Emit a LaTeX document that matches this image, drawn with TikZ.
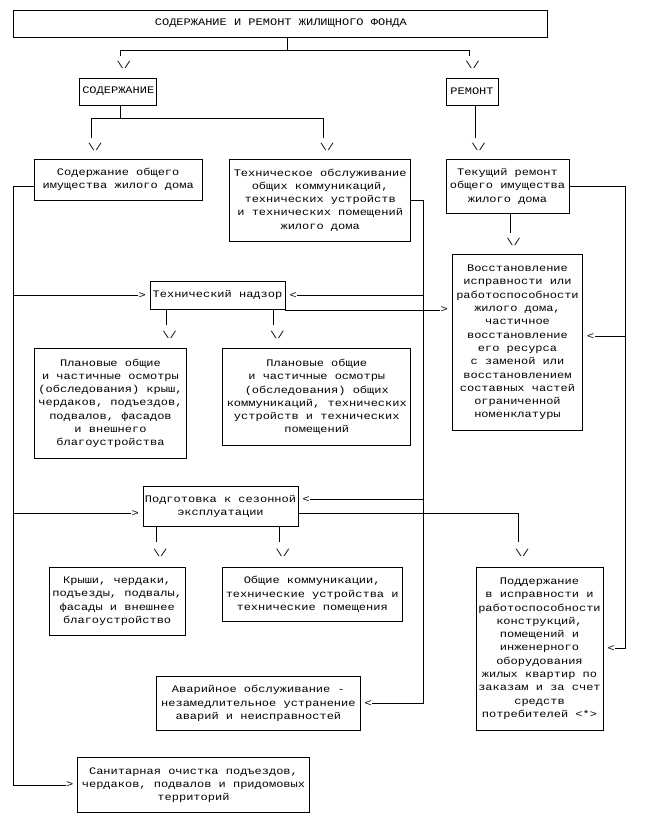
\documentclass[tikz,border=0pt]{standalone}
\usepackage{fontspec}
\newfontfamily\boxfont[FakeStretch=1.2]{Liberation Mono}
\newcommand{\vtext}{\textbackslash/}
\tikzset{
  blok/.style={draw, line width=0.9pt, inner sep=1pt, align=center,
    font=\boxfont\fontsize{10}{13.3}\selectfont},
  wh/.style 2 args={minimum width=#1pt, minimum height=#2pt},
  tip/.style={inner sep=0pt, font=\boxfont\fontsize{10}{13.3}\selectfont},
  link/.style={line width=0.9pt}
}
\begin{document}
\begin{tikzpicture}[x=1pt, y=-1pt]
  \useasboundingbox (0,0) rectangle (648,827);
  % boxes
  \node [blok, wh={534}{27}] (fond) at (280.9,23.5) {СОДЕРЖАНИЕ И РЕМОНТ ЖИЛИЩНОГО ФОНДА};
  \node [blok, wh={77}{27}] (sod) at (118.3,91.6) {СОДЕРЖАНИЕ};
  \node [blok, wh={52}{27}] (rem) at (472,91.6) {РЕМОНТ};
  \node [blok, wh={167.6}{41}] (obsh) at (118.2,179.5)
    {Содержание общего\\имущества жилого дома};
  \node [blok, wh={181.3}{82}] (tech) at (320.2,200)
    {Техническое обслуживание\\общих коммуникаций,\\технических устройств\\и технических помещений\\жилого дома};
  \node [blok, wh={123}{54}] (tek) at (507.5,186.2)
    {Текущий ремонт\\общего имущества\\жилого дома};
  \node [blok, wh={130}{176.4}] (vos) at (517.5,342.5)
    {Восстановление\\исправности или\\работоспособности\\жилого дома,\\частичное\\восстановление\\его ресурса\\с заменой или\\восстановлением\\составных частей\\ограниченной\\номенклатуры};
  \node [blok, wh={135}{28.5}] (nadz) at (217.5,295.3) {Технический надзор};
  \node [blok, wh={152.3}{110}] (plan1) at (110.5,403.3)
    {Плановые общие\\и частичные осмотры\\(обследования) крыш,\\чердаков, подъездов,\\подвалов, фасадов\\и внешнего\\благоустройства};
  \node [blok, wh={188}{97.4}] (plan2) at (316.8,397)
    {Плановые общие\\и частичные осмотры\\(обследования) общих\\коммуникаций, технических\\устройств и технических\\помещений};
  \node [blok, wh={155}{40.7}] (podg) at (220.5,506.3)
    {Подготовка к сезонной\\эксплуатации};
  \node [blok, wh={136.5}{67.7}] (krysh) at (117.2,601.2)
    {Крыши, чердаки,\\подъезды, подвалы,\\фасады и внешнее\\благоустройство};
  \node [blok, wh={180.5}{54.4}] (komm) at (312.2,594.5)
    {Общие коммуникации,\\технические устройства и\\технические помещения};
  \node [blok, wh={127}{162.7}] (podd) at (539.5,648.7)
    {Поддержание\\в исправности и\\работоспособности\\конструкций,\\помещений и\\инженерного\\оборудования\\жилых квартир по\\заказам и за счет\\средств\\потребителей <*>};
  \node [blok, wh={203.2}{54.7}] (avar) at (258.4,703.4)
    {Аварийное обслуживание -\\незамедлительное устранение\\аварий и неисправностей};
  \node [blok, wh={232}{55.4}] (san) at (193.5,785)
    {Санитарная очистка подъездов,\\чердаков, подвалов и придомовых\\территорий};

  % bends and tick ends
  \coordinate (j0) at (287.5,50.7);
  \coordinate (k1) at (120.3,56);
  \coordinate (k2) at (469,56);
  \coordinate (j1) at (120.3,118.3);
  \coordinate (k3) at (91.7,138.3);
  \coordinate (k4) at (323.6,138.3);
  \coordinate (k5) at (475,138.3);
  \coordinate (k6) at (510,233.3);
  \coordinate (k7) at (166,325);
  \coordinate (k8) at (273.9,325);
  \coordinate (k9) at (156.7,541.7);
  \coordinate (k10) at (279.3,541.7);
  \coordinate (k11) at (518.7,541.7);
  \coordinate (L0) at (13.5,186.7);
  \coordinate (R0) at (423.5,200);
  \coordinate (R1) at (625.5,186.2);

  % arrow heads written as text
  \node [tip, anchor=north] (t1) at ([xshift=3.5pt,yshift=-4.6pt]k1) {\vtext};
  \node [tip, anchor=north] (t2) at ([xshift=3.5pt,yshift=-4.6pt]k2) {\vtext};
  \node [tip, anchor=north] (t3) at ([xshift=3.5pt,yshift=-4.4pt]k3) {\vtext};
  \node [tip, anchor=north] (t4) at ([xshift=3.5pt,yshift=-4.4pt]k4) {\vtext};
  \node [tip, anchor=north] (t5) at ([xshift=3.5pt,yshift=-4.4pt]k5) {\vtext};
  \node [tip, anchor=north] (t6) at ([xshift=3.5pt,yshift=-4.4pt]k6) {\vtext};
  \node [tip, anchor=north] (t7) at ([xshift=3.5pt,yshift=-6.5pt]k7) {\vtext};
  \node [tip, anchor=north] (t8) at ([xshift=3.5pt,yshift=-6.5pt]k8) {\vtext};
  \node [tip, anchor=north] (t9) at ([xshift=3.5pt,yshift=-7.3pt]k9) {\vtext};
  \node [tip, anchor=north] (t10) at ([xshift=3.5pt,yshift=-7.3pt]k10) {\vtext};
  \node [tip, anchor=north] (t11) at ([xshift=3.5pt,yshift=-7.3pt]k11) {\vtext};
  \node [tip, anchor=east] (a1) at ([xshift=-3.5pt]nadz.west) {>};
  \node [tip, anchor=east] (a2) at ([xshift=-3.5pt,yshift=-7pt]podg.west) {>};
  \node [tip, anchor=east] (a3) at ([xshift=-3.5pt]san.west) {>};
  \node [tip, anchor=east] (a4) at ([xshift=-4pt]vos.west |- nadz.south east) {>};
  \node [tip, anchor=west] (b1) at ([xshift=4pt]nadz.east) {<};
  \node [tip, anchor=west] (b2) at ([xshift=4pt,yshift=7pt]podg.east) {<};
  \node [tip, anchor=west] (b3) at ([xshift=4pt]avar.east) {<};
  \node [tip, anchor=west] (b4) at ([xshift=4pt,yshift=6pt]vos.east) {<};
  \node [tip, anchor=west] (b5) at ([xshift=4pt]podd.east) {<};

  % connectors
  \draw [link] (fond.south -| j0) -- (j0);
  \draw [link] (k1) |- (j0) -| (k2);
  \draw [link] (sod.south -| j1) -- (j1);
  \draw [link] (k3) |- (j1) -| (k4);
  \draw [link] (rem.south -| k5) -- (k5);
  \draw [link] (tek.south -| k6) -- (k6);
  \draw [link] (nadz.south -| k7) -- (k7);
  \draw [link] (nadz.south -| k8) -- (k8);
  \draw [link] (podg.south -| k9) -- (k9);
  \draw [link] (podg.south -| k10) -- (k10);
  \draw [link] ([yshift=-7pt]podg.east) -| (k11);
  \draw [link] (nadz.south east) -- (a4.west);
  \draw [link] (obsh.west |- L0) -- (L0) |- (a3.west);
  \draw [link] (L0) |- (a1.west);
  \draw [link] (L0) |- (a2.west);
  \draw [link] (tech.east |- R0) -- (R0) |- (b3.east);
  \draw [link] (R0) |- (b1.east);
  \draw [link] (R0) |- (b2.east);
  \draw [link] (tek.east |- R1) -- (R1) |- (b5.east);
  \draw [link] (R1) |- (b4.east);
\end{tikzpicture}
\end{document}
